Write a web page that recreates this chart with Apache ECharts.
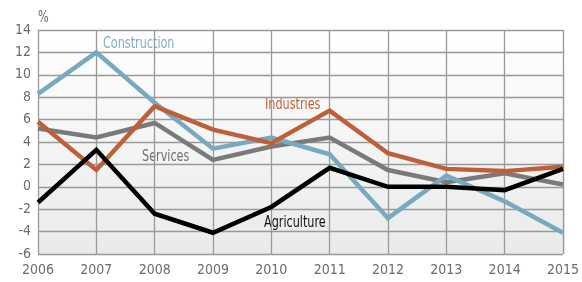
<!DOCTYPE html>
<html>
<head>
<meta charset="utf-8">
<script src="https://cdn.jsdelivr.net/npm/echarts@6/dist/echarts.min.js"></script>
<style>
  html, body { margin: 0; padding: 0; background: #fff; }
  #chart { width: 582px; height: 282px; }
</style>
</head>
<body>
<div id="chart"></div>
<script>
  const years = ['2006', '2007', '2008', '2009', '2010', '2011', '2012', '2013', '2014', '2015']
  const construction = [8.3, 12.0, 7.5, 3.4, 4.4, 2.9, -2.8, 1.0, -1.3, -4.1]
  const industries = [5.8, 1.5, 7.2, 5.1, 3.9, 6.8, 3.0, 1.6, 1.4, 1.8]
  const services = [5.2, 4.4, 5.7, 2.4, 3.6, 4.4, 1.5, 0.4, 1.2, 0.2]
  const agriculture = [-1.4, 3.3, -2.4, -4.1, -1.8, 1.7, 0.0, 0.0, -0.3, 1.6]

  const font = '"DejaVu Sans Condensed", "Liberation Sans Narrow", sans-serif'

  let chart = echarts.init(document.getElementById('chart'))

  function line(name, data, color, z) {
    return {
      name: name,
      type: 'line',
      data: data,
      symbol: 'none',
      z: z,
      lineStyle: {color: color, width: 4.5, cap: 'butt', join: 'miter'}
    }
  }

  // narrow label, squeezed horizontally to look like the condensed face of the original
  function label(text, x, y, color) {
    return {
      type: 'text',
      x: x, y: y,
      scaleX: 0.78,
      style: {text: text, fill: color, font: '16px ' + font, verticalAlign: 'middle'}
    }
  }

  let option = {
    animation: false,
    grid: {left: 38, right: 17, top: 30, bottom: 28},
    xAxis: {
      type: 'category',
      data: years,
      boundaryGap: false,
      axisTick: {show: false},
      axisLine: {show: false},
      axisLabel: {color: '#6b6b6b', fontFamily: font, fontSize: 14, margin: 9},
      splitLine: {show: true, lineStyle: {color: '#999999', width: 1.3}}
    },
    yAxis: {
      type: 'value',
      min: -6,
      max: 14,
      interval: 2,
      axisTick: {show: false},
      axisLine: {show: false},
      axisLabel: {color: '#6b6b6b', fontFamily: font, fontSize: 14, margin: 7},
      splitLine: {show: true, lineStyle: {color: '#999999', width: 1.3}}
    },
    graphic: [
      {
        type: 'rect',
        left: 38, top: 30, z: -10,
        shape: {width: 527, height: 224},
        style: {
          fill: new echarts.graphic.LinearGradient(0, 0, 0, 1, [
            {offset: 0, color: '#ffffff'},
            {offset: 1, color: '#e9eaea'}
          ])
        }
      },
      label('%', 38, 18, '#6b6b6b'),
      label('Construction', 103, 44, '#7fafc4'),
      label('Industries', 265, 105, '#c0613b'),
      label('Services', 142, 157, '#6f6f6f'),
      label('Agriculture', 264, 223, '#111111')
    ],
    series: [
      line('Services', services, '#7a7a7a', 2),
      line('Construction', construction, '#79a9be', 3),
      line('Industries', industries, '#bf5f39', 4),
      line('Agriculture', agriculture, '#000000', 5)
    ]
  }

  chart.setOption(option)
</script>
</body>
</html>
